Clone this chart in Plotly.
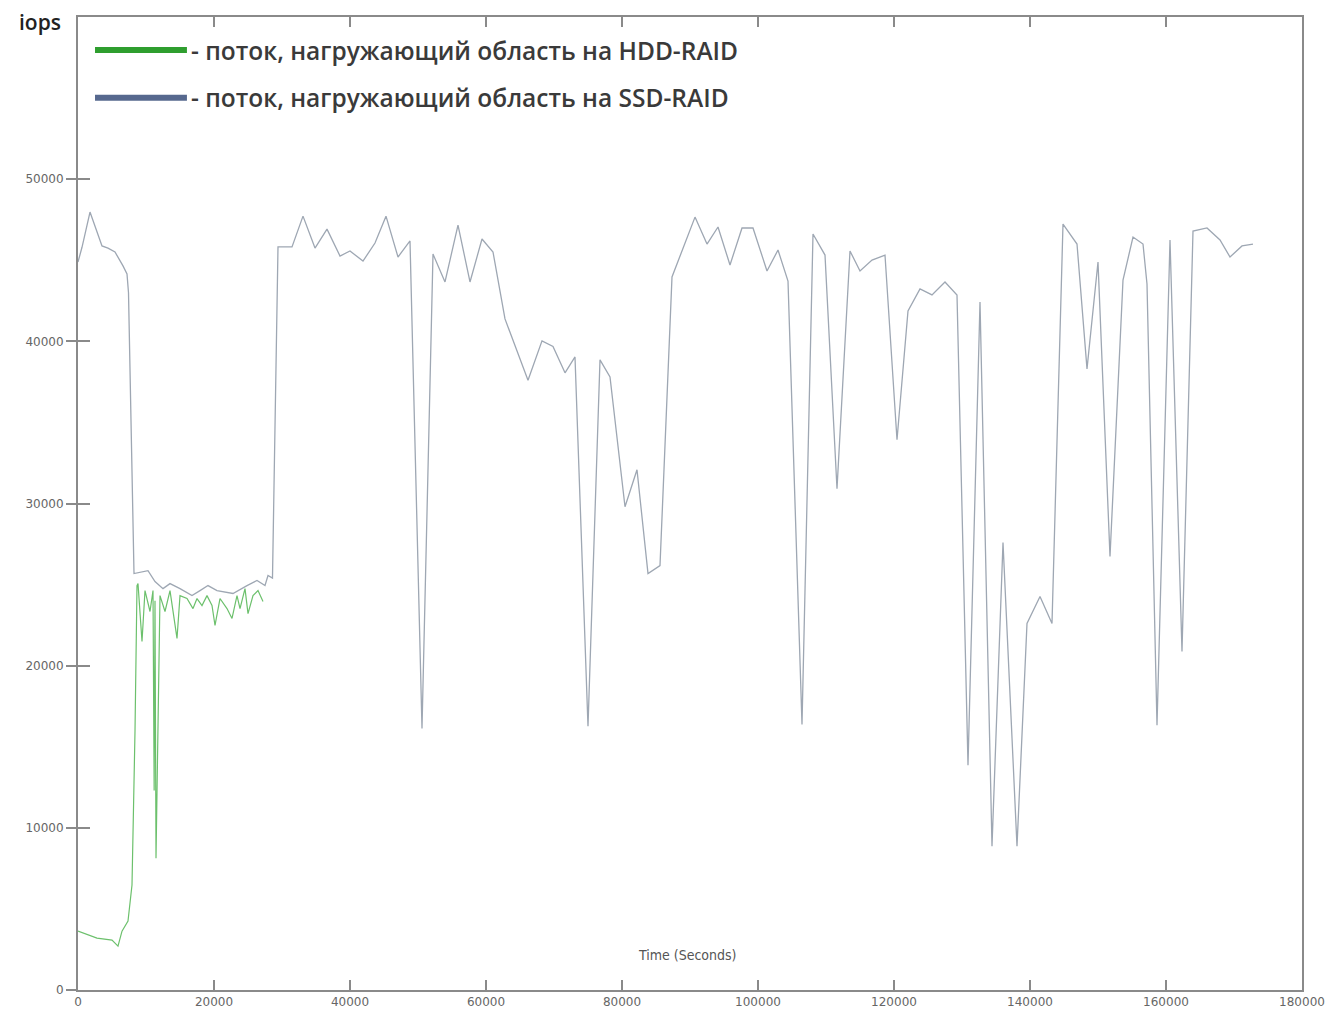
import plotly.graph_objects as go

# ---------------- data ----------------
ssd_time = [0, 588, 1765, 3529, 4412, 5441, 6618, 7206, 7426, 8235,
            10294, 11324, 12500, 13529, 15000, 16765, 17941, 19118, 20441, 22794,
            24853, 26324, 27500, 27941, 28600, 29412, 31471, 33088, 34853, 36618,
            38529, 40000, 41912, 43676, 45294, 47059, 48824, 50588, 52206, 53971,
            55882, 57647, 59412, 61029, 62794, 66176, 68235, 69853, 71618, 73088,
            75000, 76765, 78235, 80441, 82206, 83824, 85588, 87353, 90735, 92500,
            94118, 95882, 97647, 99265, 101324, 102941, 104412, 106471, 108088, 109853,
            111618, 113529, 115000, 116765, 118676, 120441, 122059, 123824, 125588, 127500,
            129265, 130882, 132647, 134412, 136029, 138088, 139559, 141471, 143235, 144853,
            146912, 148382, 150000, 151765, 153676, 155147, 156618, 157206, 158676, 160588,
            162353, 163971, 166029, 167941, 169412, 171176, 172794]
ssd_iops = [44890, 45800, 47970, 45880, 45750, 45510, 44650, 44150, 43000, 25680,
            25860, 25190, 24750, 25060, 24750, 24320, 24630, 24940, 24630, 24450,
            24940, 25250, 24940, 25560, 25400, 45820, 45820, 47720, 45750, 46920,
            45260, 45570, 44950, 46060, 47720, 45200, 46190, 16130, 45380, 43660,
            47170, 43660, 46310, 45510, 41380, 37600, 40030, 39690, 38060, 39040,
            16260, 38860, 37810, 29800, 32080, 25680, 26170, 43970, 47660, 46000,
            47050, 44710, 46990, 46990, 44340, 45630, 43720, 16380, 46620, 45320,
            30910, 45570, 44340, 45010, 45320, 33930, 41870, 43230, 42860, 43660,
            42860, 13860, 42430, 8870, 27590, 8870, 22600, 24260, 22600, 47230,
            46000, 38300, 44890, 26730, 43780, 46430, 46000, 43540, 16320, 46250,
            20880, 46800, 46990, 46250, 45200, 45880, 46000]

hdd_time = [0, 2794, 5000, 5882, 6471, 7353, 7941, 8382, 8676, 8824,
            9412, 9853, 10588, 11029, 11200, 11324, 11471, 12059, 12794, 13529,
            14559, 15000, 16029, 16912, 17500, 18235, 18971, 19706, 20147, 20882,
            21912, 22647, 23382, 23824, 24559, 25000, 25735, 26471, 27206]
hdd_iops = [3630, 3200, 3080, 2710, 3630, 4250, 6470, 15950, 24940, 25060,
            21490, 24630, 23340, 24630, 12300, 24000, 8130, 24320, 23340, 24630,
            21680, 24320, 24140, 23520, 24140, 23710, 24320, 23710, 22480, 24140,
            23520, 22910, 24320, 23520, 24750, 23210, 24320, 24630, 23950]

x_ticks = [0, 20000, 40000, 60000, 80000, 100000, 120000, 140000, 160000, 180000]
y_ticks = [0, 10000, 20000, 30000, 40000, 50000]

legend_labels = ["- поток, нагружающий область на HDD-RAID",
                 "- поток, нагружающий область на SSD-RAID"]
legend_colors = ["#2f9e2f", "#56688e"]

# ---------------- figure ----------------
fig = go.Figure()
fig.add_trace(go.Scatter(x=ssd_time, y=ssd_iops, mode="lines",
                         line=dict(color="#9ea7b3", width=1.3),
                         showlegend=False, hoverinfo="skip"))
fig.add_trace(go.Scatter(x=hdd_time, y=hdd_iops, mode="lines", yaxis="y2",
                         line=dict(color="#6cc06c", width=1.2),
                         showlegend=False, hoverinfo="skip"))

axis_col = "#8a8a8a"
tick_font = dict(family="DejaVu Sans", size=12, color="#666666")

fig.update_layout(
    width=1343, height=1021,
    margin=dict(l=78, r=41, t=17, b=29),
    paper_bgcolor="white", plot_bgcolor="white",
    xaxis=dict(range=[0, 180000], tickvals=x_ticks, tickformat="d",
               ticks="inside", ticklen=10, tickcolor=axis_col, tickwidth=1.5,
               showline=True, linecolor=axis_col, linewidth=2, mirror="ticks",
               showgrid=False, zeroline=False, tickfont=tick_font),
    yaxis=dict(range=[0, 60000], tickvals=y_ticks, tickformat="d",
               ticks="outside", ticklen=10, tickcolor=axis_col, tickwidth=1.5,
               showline=True, linecolor=axis_col, linewidth=2, mirror=True,
               showgrid=False, zeroline=False, tickfont=tick_font),
    yaxis2=dict(range=[0, 60000], tickvals=y_ticks, overlaying="y", side="left",
                anchor="x", ticks="inside", ticklen=12, tickcolor=axis_col, tickwidth=1.5,
                showticklabels=False, showline=False, showgrid=False, zeroline=False),
)

# custom legend
legend_y = [0.966, 0.917]
for lab, col, yy in zip(legend_labels, legend_colors, legend_y):
    fig.add_shape(type="line", xref="paper", yref="paper",
                  x0=0.0139, x1=0.089, y0=yy, y1=yy,
                  line=dict(color=col, width=6))
    fig.add_annotation(xref="paper", yref="paper", x=0.091, y=yy,
                       xanchor="left", yanchor="middle", showarrow=False,
                       text=lab, font=dict(family="Open Sans", size=24.5, weight=600, color="#3a3a3a"))

fig.add_annotation(xref="paper", yref="paper", x=-0.012, y=0.995,
                   xanchor="right", yanchor="middle", showarrow=False,
                   text="iops", font=dict(family="Open Sans", size=21, weight=600, color="#222222"))
fig.add_annotation(xref="paper", yref="paper", x=0.498, y=0.036,
                   xanchor="center", yanchor="middle", showarrow=False,
                   text="Time (Seconds)", font=dict(family="DejaVu Sans Condensed, DejaVu Sans", size=14, color="#555555"))

fig.write_html("out.html")
